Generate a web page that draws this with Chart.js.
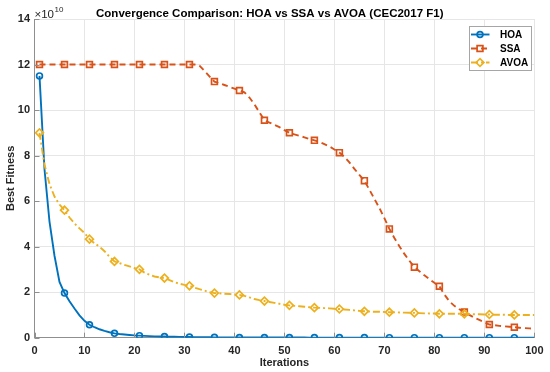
<!DOCTYPE html>
<html>
<head>
<meta charset="utf-8">
<script src="https://cdn.jsdelivr.net/npm/chart.js@4.4.1/dist/chart.umd.min.js"></script>
<style>
html,body{margin:0;padding:0;background:#fff;}
#wrap{width:550px;height:372px;}
</style>
</head>
<body>
<div id="wrap"><canvas id="c" width="550" height="372"></canvas></div>
<script>
// ---- data (Best Fitness in units of 1e10) ----
const iterations = [1,2,3,4,5,6,7,8,9,10,11,12,13,14,15,16,17,18,19,20,21,22,23,24,25,26,27,28,29,30,31,32,33,34,35,36,37,38,39,40,41,42,43,44,45,46,47,48,49,50,51,52,53,54,55,56,57,58,59,60,61,62,63,64,65,66,67,68,69,70,71,72,73,74,75,76,77,78,79,80,81,82,83,84,85,86,87,88,89,90,91,92,93,94,95,96,97,98,99,100];
const hoaFitness = [11.5,7.4,5.1,3.6,2.45,1.96,1.6,1.28,0.98,0.74,
  0.57,0.46,0.37,0.30,0.24,0.19,0.16,0.14,0.12,0.10,
  0.09,0.08,0.07,0.06,0.055,0.05,0.045,0.04,0.035,0.032,
  0.03,0.027,0.024,0.021,0.018,0.016,0.015,0.014,0.013,0.012,
  0.011,0.010,0.010,0.009,0.009,0.008,0.008,0.007,0.007,0.007,
  0.006,0.006,0.006,0.006,0.005,0.005,0.005,0.005,0.005,0.004,
  0.004,0.004,0.004,0.004,0.004,0.004,0.003,0.003,0.003,0.003,
  0.003,0.003,0.003,0.003,0.003,0.003,0.003,0.002,0.002,0.002,
  0.002,0.002,0.002,0.002,0.002,0.002,0.002,0.002,0.002,0.002,
  0.002,0.002,0.002,0.002,0.002,0.002,0.002,0.002,0.002,0.002];
const ssaFitness = [12,12,12,12,12,12,12,12,12,12,
  12,12,12,12,12,12,12,12,12,12,
  12,12,12,12,12,12,12,12,12,12,
  12.0,12.0,11.95,11.72,11.48,11.25,11.18,11.1,11.02,10.94,
  10.86,10.78,10.55,10.25,9.9,9.55,9.45,9.35,9.25,9.12,
  9.0,8.93,8.87,8.8,8.73,8.67,8.6,8.5,8.4,8.27,
  8.13,7.95,7.7,7.42,7.15,6.9,6.5,6.1,5.7,5.25,
  4.78,4.38,4.02,3.68,3.38,3.1,2.92,2.74,2.57,2.41,
  2.26,1.9,1.6,1.4,1.25,1.13,1.0,0.88,0.78,0.68,
  0.58,0.55,0.52,0.5,0.48,0.46,0.44,0.42,0.41,0.4];
const avoaFitness = [9.0,7.6,6.75,6.2,5.85,5.6,5.28,5.02,4.8,4.6,
  4.33,4.15,4.0,3.8,3.55,3.35,3.28,3.2,3.13,3.06,
  3.0,2.86,2.77,2.69,2.65,2.62,2.53,2.44,2.37,2.32,
  2.28,2.2,2.13,2.07,2.0,1.96,1.95,1.93,1.92,1.9,
  1.88,1.84,1.77,1.7,1.65,1.61,1.57,1.53,1.49,1.45,
  1.42,1.4,1.38,1.36,1.34,1.32,1.31,1.3,1.29,1.27,
  1.26,1.24,1.22,1.2,1.18,1.16,1.15,1.14,1.14,1.13,
  1.12,1.115,1.11,1.1,1.095,1.09,1.08,1.07,1.065,1.06,
  1.05,1.05,1.05,1.05,1.05,1.05,1.04,1.03,1.03,1.02,
  1.02,1.01,1.01,1.01,1.0,1.0,1.0,1.0,1.0,1.0];
const seriesNames = ['HOA','SSA','AVOA'];
const xTickValues = [0,10,20,30,40,50,60,70,80,90,100];
const yTickValues = [0,2,4,6,8,10,12,14];
const yExponentBase = '×10';
const yExponent = '10';
const chartTitle = 'Convergence Comparison: HOA vs SSA vs AVOA (CEC2017 F1)';
const xTitle = 'Iterations';
const yTitle = 'Best Fitness';

// ---- styles ----
const COLORS = ['#0072BD', '#D95319', '#EDB120'];
const DASHES = [[], [6, 4], [7, 3, 2, 3]];
const STYLES = ['circle', 'rect', 'rectRot'];
const RADII = [2.9, 4.1, 3.9];
const AXIS = '#8f8f8f';
const FONT = "'Liberation Sans', Arial, Helvetica, sans-serif";

function toPoints(vals) { return iterations.map((it, i) => ({ x: it, y: vals[i] })); }
const allSeries = [hoaFitness, ssaFitness, avoaFitness];

const datasets = allSeries.map((vals, k) => ({
  label: seriesNames[k],
  data: toPoints(vals),
  borderColor: COLORS[k],
  backgroundColor: 'rgba(255,255,255,0)',
  borderWidth: 1.9,
  borderDash: DASHES[k],
  pointStyle: STYLES[k],
  pointRadius: (ctx) => (ctx.raw && (ctx.raw.x - 1) % 5 === 0) ? RADII[k] : 0,
  pointBorderWidth: 1.7,
  pointBorderColor: COLORS[k],
  pointBackgroundColor: 'rgba(255,255,255,0)',
  pointHoverRadius: 0,
  tension: 0,
  order: 2 - k
}));

function drawMarker(ctx, style, x, y, r) {
  ctx.beginPath();
  if (style === 'circle') {
    ctx.arc(x, y, r, 0, Math.PI * 2);
  } else if (style === 'rect') {
    const s = r * Math.SQRT1_2;
    ctx.rect(x - s, y - s, 2 * s, 2 * s);
  } else {
    ctx.moveTo(x - r, y); ctx.lineTo(x, y - r); ctx.lineTo(x + r, y); ctx.lineTo(x, y + r); ctx.closePath();
  }
  ctx.stroke();
}

const extras = {
  id: 'extras',
  afterDraw(chart) {
    const ctx = chart.ctx;
    const ca = chart.chartArea;
    const xs = chart.scales.x, ys = chart.scales.y;
    ctx.save();
    // inner ticks
    ctx.strokeStyle = AXIS; ctx.lineWidth = 1; ctx.setLineDash([]);
    ctx.beginPath();
    xTickValues.forEach(v => { const px = Math.round(xs.getPixelForValue(v)) + 0.5; ctx.moveTo(px, ca.bottom); ctx.lineTo(px, ca.bottom - 5); });
    yTickValues.forEach(v => { const py = Math.round(ys.getPixelForValue(v)) + 0.5; ctx.moveTo(ca.left, py); ctx.lineTo(ca.left + 5, py); });
    ctx.stroke();
    // exponent label
    ctx.fillStyle = '#262626';
    ctx.textBaseline = 'alphabetic'; ctx.textAlign = 'left';
    ctx.font = '11.5px ' + FONT;
    ctx.fillText(yExponentBase, ca.left, 17.5);
    const w = ctx.measureText(yExponentBase).width;
    ctx.font = '8px ' + FONT;
    ctx.fillText(yExponent, ca.left + w + 0.5, 12);
    // legend
    const bx = 469.5, by = 26.5, bw = 62, bh = 44;
    ctx.fillStyle = '#fff';
    ctx.fillRect(bx, by, bw, bh);
    ctx.strokeStyle = '#a6a6a6'; ctx.lineWidth = 1;
    ctx.strokeRect(bx, by, bw, bh);
    const rows = [34.5, 48.5, 62.5];
    seriesNames.forEach((name, k) => {
      const y = rows[k];
      ctx.strokeStyle = COLORS[k]; ctx.lineWidth = 1.9;
      ctx.setLineDash(DASHES[k]);
      ctx.beginPath(); ctx.moveTo(471, y); ctx.lineTo(489.5, y); ctx.stroke();
      ctx.setLineDash([]);
      ctx.lineWidth = 1.7;
      drawMarker(ctx, STYLES[k], 480, y, RADII[k]);
      ctx.fillStyle = '#000';
      ctx.font = 'bold 10px ' + FONT;
      ctx.textBaseline = 'middle';
      ctx.fillText(name, 500, y + 0.5);
    });
    ctx.restore();
  }
};

new Chart(document.getElementById('c'), {
  type: 'line',
  data: { datasets },
  options: {
    responsive: false,
    animation: false,
    devicePixelRatio: 1,
    layout: { padding: { left: 0, right: 10.5, top: 0, bottom: 0 } },
    plugins: {
      legend: { display: false },
      tooltip: { enabled: false },
      title: {
        display: true,
        text: chartTitle,
        color: '#000',
        font: { family: FONT, size: 11.5, weight: 'bold', lineHeight: 1.2 },
        padding: { top: 6.5, bottom: -1.3 }
      }
    },
    scales: {
      x: {
        type: 'linear', min: 0, max: 100,
        afterFit: (s) => { s.height = 34.3; },
        afterBuildTicks: (s) => { s.ticks = xTickValues.map(v => ({ value: v })); },
        ticks: { color: '#262626', padding: 6.5, maxRotation: 0, font: { family: FONT, size: 11, weight: 'bold' } },
        grid: { color: '#e6e6e6', lineWidth: 1, drawTicks: false },
        border: { display: true, color: AXIS, width: 1 },
        title: { display: true, text: xTitle, color: '#262626', padding: { top: 0, bottom: 2.4 }, font: { family: FONT, size: 11, weight: 'bold', lineHeight: 1.2 } }
      },
      y: {
        type: 'linear', min: 0, max: 14,
        afterFit: (s) => { s.width = 34.5; },
        afterBuildTicks: (s) => { s.ticks = yTickValues.map(v => ({ value: v })); },
        ticks: { color: '#262626', padding: 4.5, font: { family: FONT, size: 11, weight: 'bold' } },
        grid: { color: '#e6e6e6', lineWidth: 1, drawTicks: false },
        border: { display: true, color: AXIS, width: 1 },
        title: { display: true, text: yTitle, color: '#262626', padding: { top: 4, bottom: 0 }, font: { family: FONT, size: 11, weight: 'bold', lineHeight: 1.2 } }
      }
    }
  },
  plugins: [extras]
});
</script>
</body>
</html>
